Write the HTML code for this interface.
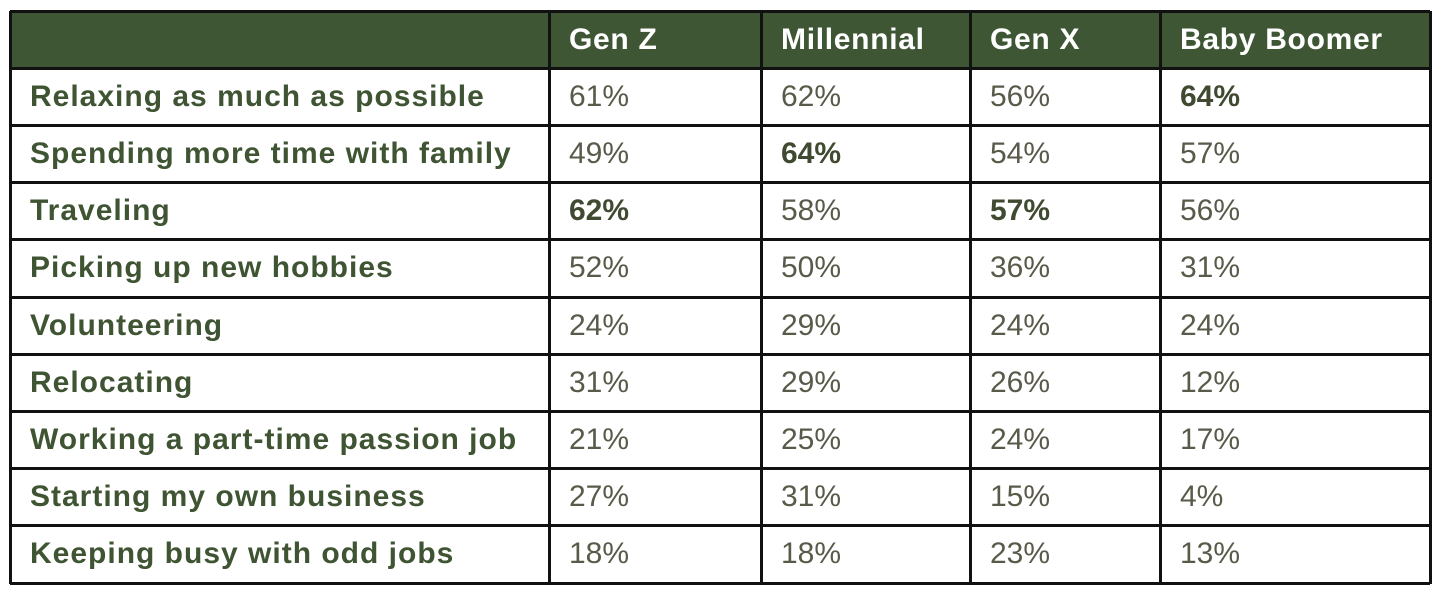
<!DOCTYPE html>
<html><head><style>
body{margin:0;background:#fff;width:1440px;height:595px;position:relative;overflow:hidden;font-family:"Liberation Sans",Arial,sans-serif}
.c{position:absolute;box-sizing:border-box;display:flex;align-items:center;padding-left:20px;font-size:30px;color:#5a5a4a}
.h{background:#3f5634;color:#fff;font-weight:bold;letter-spacing:0.7px}
.l{font-weight:bold;color:#3f5432;letter-spacing:1px}
.b{font-weight:bold;color:#3f4a30}
.hl{position:absolute;left:10px;width:1420px;height:3px;background:#111}
.vl{position:absolute;top:11px;height:573px;width:3px;background:#111}
</style></head><body>
<div id="t"></div>
<script>
var rows=[["","Gen Z","Millennial","Gen X","Baby Boomer"],
["Relaxing as much as possible","61%","62%","56%","*64%"],
["Spending more time with family","49%","*64%","54%","57%"],
["Traveling","*62%","58%","*57%","56%"],
["Picking up new hobbies","52%","50%","36%","31%"],
["Volunteering","24%","29%","24%","24%"],
["Relocating","31%","29%","26%","12%"],
["Working a part-time passion job","21%","25%","24%","17%"],
["Starting my own business","27%","31%","15%","4%"],
["Keeping busy with odd jobs","18%","18%","23%","13%"]];
var ys=[11,68,125,182,239,297,354,411,468,525,583],xs=[10,549,761,970,1160,1430],h="";
for(var r=0;r<10;r++)for(var c=0;c<5;c++){var t=rows[r][c],cls="c";
if(r==0)cls+=" h";else if(c==0)cls+=" l";if(t[0]=="*"){t=t.slice(1);cls+=" b";}
h+='<div class="'+cls+'" style="left:'+xs[c]+'px;top:'+ys[r]+'px;width:'+(xs[c+1]-xs[c])+'px;height:'+(ys[r+1]-ys[r])+'px">'+t+'</div>';}
for(var i=0;i<ys.length;i++)h+='<div class="hl" style="top:'+(ys[i]-1)+'px"></div>';
for(var j=0;j<xs.length;j++)h+='<div class="vl" style="left:'+(xs[j]-1)+'px"></div>';
document.getElementById("t").innerHTML=h;
</script>
</body></html>
